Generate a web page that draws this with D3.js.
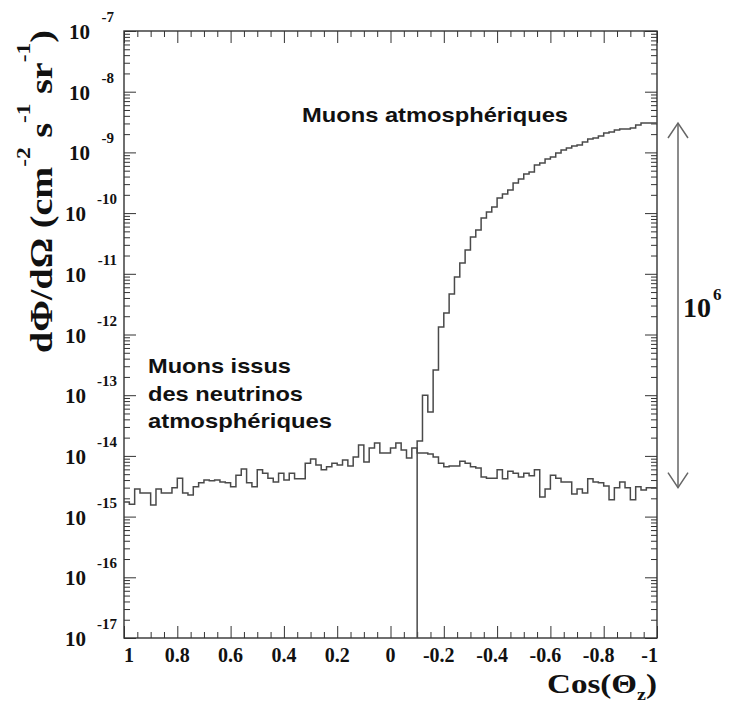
<!DOCTYPE html>
<html>
<head>
<meta charset="utf-8">
<script src="https://cdn.jsdelivr.net/npm/d3@7"></script>
<style>
  html, body { margin: 0; padding: 0; background: #fff; }
  svg { display: block; }
</style>
</head>
<body>
<svg id="chart" width="730" height="707"></svg>
<script>
// ---------------- DATA ----------------
// Histogram binning in cos(theta_z): 100 bins of width 0.02, drawn from +1 (left) to -1 (right)
const binStart = 1;
const binWidth = -0.02;
const nBins = 100;

// Muons issus des neutrinos atmosphériques (all 100 bins, cm^-2 s^-1 sr^-1)
const neutrinoMuons = [
  1.74e-15, 1.6e-15, 2.85e-15, 2.45e-15, 2.45e-15, 1.55e-15, 2.85e-15, 2.45e-15, 2.45e-15, 3.0e-15,
  4.3e-15, 2.45e-15, 2.27e-15, 3.1e-15, 3.6e-15, 4.0e-15, 3.9e-15, 4.0e-15, 3.7e-15, 3.6e-15,
  3.1e-15, 4.8e-15, 6.1e-15, 3.6e-15, 3.1e-15, 5.9e-15, 5.2e-15, 4.3e-15, 3.7e-15, 5.2e-15,
  4.0e-15, 5.2e-15, 4.2e-15, 4.2e-15, 7.6e-15, 8.9e-15, 7.1e-15, 5.9e-15, 6.6e-15, 7.6e-15,
  7.1e-15, 8.55e-15, 6.8e-15, 9.6e-15, 1.51e-14, 7.9e-15, 1.35e-14, 1.63e-14, 1.12e-14, 1.12e-14,
  1.35e-14, 1.63e-14, 1.25e-14, 9.2e-15, 1.35e-14, 1.12e-14, 1.12e-14, 1.07e-14, 9.6e-15, 7.6e-15,
  6.6e-15, 6.8e-15, 6.8e-15, 8.2e-15, 7.6e-15, 6.6e-15, 6.3e-15, 4.5e-15, 4.3e-15, 4.3e-15,
  5.9e-15, 4.2e-15, 5.6e-15, 5.2e-15, 4.5e-15, 5.2e-15, 4.7e-15, 5.9e-15, 2.1e-15, 2.85e-15,
  4.8e-15, 4.3e-15, 3.7e-15, 3.7e-15, 2.35e-15, 2.85e-15, 2.45e-15, 4.2e-15, 3.7e-15, 3.6e-15,
  3.2e-15, 1.9e-15, 3.0e-15, 3.7e-15, 3.0e-15, 1.9e-15, 3.1e-15, 2.75e-15, 3.0e-15, 3.0e-15
];

// Muons atmosphériques: zero for bins 0..54 (cos > -0.1), values for bins 55..99
const atmFirstBin = 55;
const atmosphericMuons = [
  1.76e-14, 1.0e-13, 5.3e-14, 2.6e-13, 1.33e-12, 2.26e-12, 4.65e-12, 8.85e-12, 1.51e-11, 2.47e-11,
  4.04e-11, 5.27e-11, 8.3e-11, 1.04e-10, 1.26e-10, 1.77e-10, 2.07e-10, 2.4e-10, 3.13e-10, 3.65e-10,
  4.41e-10, 4.75e-10, 6.2e-10, 6.7e-10, 7.8e-10, 8.4e-10, 9.8e-10, 1.10e-9, 1.18e-9, 1.27e-9,
  1.32e-9, 1.48e-9, 1.66e-9, 1.73e-9, 1.86e-9, 2.09e-9, 2.17e-9, 2.34e-9, 2.43e-9, 2.43e-9,
  2.52e-9, 2.83e-9, 3.05e-9, 3.05e-9, 3.05e-9
];

// Axis ticks
const xTickValues = [1, 0.8, 0.6, 0.4, 0.2, 0, -0.2, -0.4, -0.6, -0.8, -1];
const xTickLabels = ["1", "0.8", "0.6", "0.4", "0.2", "0", "-0.2", "-0.4", "-0.6", "-0.8", "-1"];
const xMinorValues = [0.95, 0.9, 0.85, 0.75, 0.7, 0.65, 0.55, 0.5, 0.45, 0.35, 0.3, 0.25, 0.15, 0.1, 0.05,
  -0.05, -0.1, -0.15, -0.25, -0.3, -0.35, -0.45, -0.5, -0.55, -0.65, -0.7, -0.75, -0.85, -0.9, -0.95];
const yDecades = [-7, -8, -9, -10, -11, -12, -13, -14, -15, -16, -17];

const yTitleParts = ["dΦ/dΩ (cm", "-2", " s", "-1", " sr", "-1", ")"];
const xTitleParts = ["Cos(Θ", "z", ")"];
const labelAtm = "Muons atmosphériques";
const labelNu = ["Muons issus", "des neutrinos", "atmosphériques"];
const ratioLabel = ["10", "6"];

// ---------------- DRAW ----------------
const svg = d3.select("#chart");
const L = 124, R = 657, T = 31, B = 638;
const serif = "'Liberation Serif','Times New Roman',Times,serif";
const sans = "'Liberation Sans',Arial,Helvetica,sans-serif";
const ink = "#333";

const x = d3.scaleLinear().domain([1, -1]).range([L, R]);
const y = d3.scaleLog().domain([1e-17, 1e-7]).range([B, T]);

svg.append("rect").attr("width", 730).attr("height", 707).attr("fill", "#fff");

// clip
svg.append("defs").append("clipPath").attr("id", "plotclip")
  .append("rect").attr("x", L).attr("y", T).attr("width", R - L).attr("height", B - T);

// tick helpers
const yMajor = yDecades.map(n => Math.pow(10, n));
const yMinor = [];
yDecades.forEach(n => { if (n > -17) for (let k = 2; k <= 9; k++) yMinor.push(k * Math.pow(10, n - 1)); });

function ticks(axisGen, tr, values, size) {
  const g = svg.append("g").attr("transform", tr)
    .call(axisGen.tickValues(values).tickSizeInner(size).tickSizeOuter(0).tickFormat(""));
  g.select(".domain").remove();
  g.selectAll(".tick line").attr("stroke", ink).attr("stroke-width", 1);
}
ticks(d3.axisBottom(x), `translate(0,${B})`, xTickValues, -12);
ticks(d3.axisBottom(x), `translate(0,${B})`, xMinorValues, -6);
ticks(d3.axisTop(x), `translate(0,${T})`, xTickValues, -12);
ticks(d3.axisTop(x), `translate(0,${T})`, xMinorValues, -6);
ticks(d3.axisLeft(y), `translate(${L},0)`, yMajor, -12);
ticks(d3.axisLeft(y), `translate(${L},0)`, yMinor, -6);
ticks(d3.axisRight(y), `translate(${R},0)`, yMajor, -12);
ticks(d3.axisRight(y), `translate(${R},0)`, yMinor, -6);

// frame
svg.append("rect").attr("x", L).attr("y", T).attr("width", R - L).attr("height", B - T)
  .attr("fill", "none").attr("stroke", ink).attr("stroke-width", 1.4);

// histograms
const edge = i => binStart + i * binWidth;
const step = d3.line().x(d => x(d[0])).y(d => y(d[1])).curve(d3.curveStepAfter);

const nuPts = neutrinoMuons.map((v, i) => [edge(i), v]);
nuPts.push([edge(nBins), neutrinoMuons[nBins - 1]]);

const atmPts = [[edge(atmFirstBin), 1e-17]].concat(atmosphericMuons.map((v, j) => [edge(atmFirstBin + j), v]));
atmPts.push([edge(nBins), atmosphericMuons[atmosphericMuons.length - 1]]);

const hg = svg.append("g").attr("clip-path", "url(#plotclip)");
hg.append("path").attr("d", step(nuPts)).attr("fill", "none").attr("stroke", "#4a4a4a").attr("stroke-width", 1.5);
hg.append("path").attr("d", step(atmPts)).attr("fill", "none").attr("stroke", "#4a4a4a").attr("stroke-width", 1.5);

// x tick labels
xTickValues.forEach((v, i) => {
  const t = svg.append("text").attr("y", 662).attr("font-family", serif).attr("font-weight", "bold")
    .attr("font-size", 20).attr("fill", "#111").text(xTickLabels[i]);
  if (i === 0) t.attr("x", x(v)).attr("text-anchor", "start");
  else if (i === xTickValues.length - 1) t.attr("x", x(v) + 1).attr("text-anchor", "end");
  else t.attr("x", x(v) + (v < 0 ? -5 : 0)).attr("text-anchor", "middle");
});

// y tick labels
yDecades.forEach(n => {
  const yy = y(Math.pow(10, n));
  const twoDigit = String(n).length > 2;
  svg.append("text").attr("x", twoDigit ? 86 : 90).attr("y", yy + 8).attr("text-anchor", "end")
    .attr("font-family", serif).attr("font-weight", "bold").attr("font-size", 21).attr("fill", "#111").text("10");
  svg.append("text").attr("x", twoDigit ? 117 : 114).attr("y", yy - 9).attr("text-anchor", "end")
    .attr("font-family", serif).attr("font-weight", "bold").attr("font-size", 15).attr("fill", "#111").text(String(n));
});

// y title
const yt = svg.append("text").attr("transform", "translate(52,353) rotate(-90)")
  .attr("font-family", serif).attr("font-weight", "bold").attr("font-size", 31).attr("fill", "#111")
  .attr("textLength", 323).attr("lengthAdjust", "spacingAndGlyphs");
yTitleParts.forEach((p, i) => {
  const sup = i % 2 === 1;
  yt.append("tspan").attr("font-size", sup ? 19 : 31).attr("dy", sup ? -22 : (i > 0 ? 22 : 0)).text(p);
});

// x title
const xt = svg.append("text").attr("x", R).attr("y", 693).attr("text-anchor", "end")
  .attr("font-family", serif).attr("font-weight", "bold").attr("font-size", 28).attr("fill", "#111")
  .attr("textLength", 110).attr("lengthAdjust", "spacingAndGlyphs");
xt.append("tspan").text(xTitleParts[0]);
xt.append("tspan").attr("font-size", 17).attr("dy", 7).text(xTitleParts[1]);
xt.append("tspan").attr("dy", -7).text(xTitleParts[2]);

// annotations
svg.append("text").attr("x", 302).attr("y", 122).attr("font-family", sans).attr("font-weight", "bold")
  .attr("font-size", 21).attr("fill", "#111").attr("textLength", 266).attr("lengthAdjust", "spacingAndGlyphs")
  .text(labelAtm);
const nuW = [143, 155, 184];
labelNu.forEach((s, i) => {
  svg.append("text").attr("x", 148).attr("y", 373 + i * 27.6).attr("font-family", sans).attr("font-weight", "bold")
    .attr("font-size", 21).attr("fill", "#111").attr("textLength", nuW[i]).attr("lengthAdjust", "spacingAndGlyphs")
    .text(s);
});

// 10^6 double arrow between the two curves at cos = -1
const ax = 678;
const yTop = y(atmosphericMuons[atmosphericMuons.length - 1]);
const yBot = y(neutrinoMuons[nBins - 1]);
const ag = svg.append("g").attr("stroke", "#666").attr("stroke-width", 1.5).attr("fill", "none");
ag.append("line").attr("x1", ax).attr("x2", ax).attr("y1", yTop).attr("y2", yBot);
ag.append("path").attr("d", `M${ax - 10},${yTop + 15}L${ax},${yTop}L${ax + 10},${yTop + 15}`);
ag.append("path").attr("d", `M${ax - 10},${yBot - 15}L${ax},${yBot}L${ax + 10},${yBot - 15}`);

svg.append("text").attr("x", 683).attr("y", 317).attr("font-family", serif).attr("font-weight", "bold")
  .attr("font-size", 28).attr("fill", "#111").text(ratioLabel[0]);
svg.append("text").attr("x", 713).attr("y", 300).attr("font-family", serif).attr("font-weight", "bold")
  .attr("font-size", 17).attr("fill", "#111").text(ratioLabel[1]);
</script>
</body>
</html>
